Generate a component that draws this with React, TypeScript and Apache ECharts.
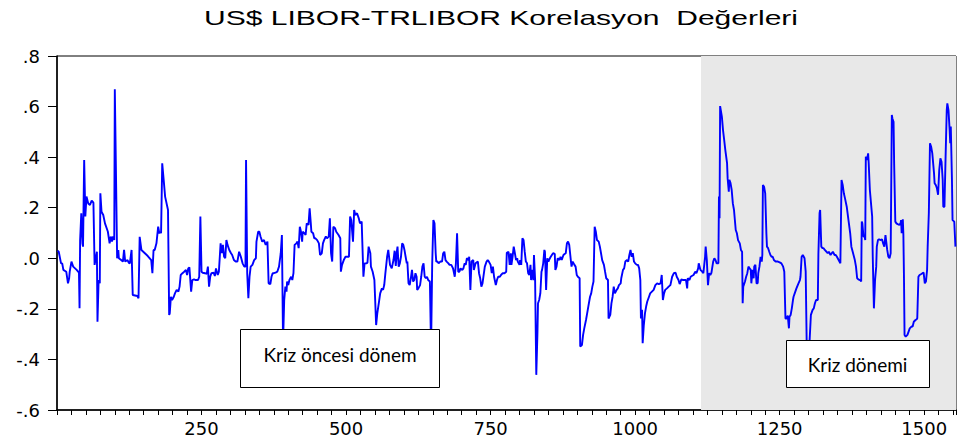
import React, { useEffect, useRef } from "react";
import * as echarts from "echarts";

const segA: [number, number][] = [
  [1, 0.03], [3, 0.026], [7, -0.02], [9, -0.02], [11, -0.046], [16, -0.053], [19, -0.099], [21, -0.079], [22, -0.053], [25, -0.013], [28, -0.033], [34, -0.046], [38, -0.057], [39, -0.198], [40, 0.072], [42, 0.178], [44, 0.059], [45, 0.046], [47, 0.389], [49, 0.165], [51, 0.244], [54, 0.217], [57, 0.211], [60, 0.228], [63, 0.22], [65, -0.026], [66, -0.013], [69, 0.026], [70, -0.251], [72, -0.086], [74, -0.099], [75, 0.257], [77, 0.184], [80, 0.171], [83, 0.138], [87, 0.112], [88, 0.105], [91, 0.059], [93, 0.086], [95, 0.066], [97, 0.086], [99, 0.072], [100, 0.668], [102, 0.336], [104, 0.0], [106, 0.033], [107, 0.0], [111, -0.007], [114, -0.013], [116, 0.033], [118, -0.013], [122, -0.007], [124, -0.017], [126, -0.02], [129, 0.033], [130, 0.033], [131, -0.145], [139, -0.149], [141, -0.158], [143, 0.085], [146, 0.033], [152, 0.02], [157, 0.009], [163, -0.007], [165, -0.059], [167, 0.033], [169, 0.033], [172, 0.059], [175, 0.125], [177, 0.099], [179, 0.105], [180, 0.099], [182, 0.376], [185, 0.297], [187, 0.244], [192, 0.191], [194, -0.224],
];
const segB: [number, number][] = [
  [195, -0.218], [197, -0.152], [199, -0.165], [202, -0.152], [204, -0.139], [207, -0.125], [210, -0.132], [212, -0.112], [214, -0.066], [217, -0.059], [220, -0.053], [223, -0.046], [225, -0.066], [227, -0.04], [229, -0.036], [232, -0.132], [234, -0.086], [237, -0.083], [240, -0.086], [244, -0.086], [246, -0.073], [248, 0.165], [250, -0.053], [252, -0.057], [256, -0.059], [259, -0.062], [261, -0.033], [263, -0.112], [265, -0.073], [267, -0.059], [271, -0.057], [273, -0.07], [275, -0.04], [278, -0.066], [280, -0.053], [283, 0.059], [285, 0.02], [287, 0.053], [289, 0.006], [291, 0.0], [293, 0.072], [295, 0.053], [298, 0.033], [301, 0.02], [303, 0.013], [306, -0.007], [309, -0.013], [312, -0.013], [315, 0.026], [318, 0.006], [321, -0.02], [324, -0.033], [326, -0.033], [327, 0.389], [329, -0.059], [331, -0.158], [333, -0.073], [335, -0.033], [338, -0.026], [341, -0.007], [344, 0.0], [345, 0.066], [348, 0.105], [350, 0.105], [352, 0.086], [355, 0.066], [358, 0.072], [361, 0.053], [364, 0.066], [366, -0.099], [369, -0.102], [371, -0.073], [373, -0.059], [375, -0.059], [378, -0.057], [381, -0.053], [384, -0.033], [387, 0.02],
];
const segC: [number, number][] = [
  [389, 0.092], [391, -0.33], [393, -0.165], [395, -0.112], [397, -0.132], [398, -0.092], [400, -0.106], [402, -0.086], [405, -0.073], [407, -0.086], [409, -0.059], [411, 0.053], [414, 0.059], [416, 0.066], [418, 0.04], [420, 0.125], [422, 0.105], [424, 0.066], [425, 0.105], [428, 0.099], [430, 0.092], [432, 0.138], [435, 0.132], [437, 0.198], [439, 0.138], [440, 0.105], [443, 0.099], [445, 0.079], [447, 0.079], [450, 0.072], [453, 0.059], [455, 0.013], [458, 0.02], [460, 0.059], [462, 0.072], [465, 0.086], [467, 0.079], [470, 0.086], [472, 0.158], [474, 0.02], [476, -0.013], [478, 0.125], [481, 0.119], [483, 0.105], [487, 0.092], [490, 0.079], [491, -0.053], [493, -0.026], [496, -0.007], [499, 0.006], [505, 0.006], [507, 0.165], [509, 0.151], [512, 0.066], [514, 0.191], [516, 0.171], [519, 0.178], [522, 0.158], [524, 0.138], [527, 0.145], [530, -0.073], [532, -0.02], [535, -0.02], [537, -0.017], [539, 0.046], [542, 0.02], [543, -0.033], [546, -0.053], [549, -0.086], [552, -0.264], [554, -0.218], [557, -0.171], [559, -0.139], [562, -0.119], [564, -0.125], [566, -0.106], [568, -0.059], [571, 0.006], [573, 0.033], [576, -0.026], [579, -0.04], [582, -0.007], [584, 0.03],
];
const segD: [number, number][] = [
  [586, -0.03], [587.5, 0.02], [589, 0.046], [591, -0.033], [593, -0.02], [595, 0.006], [597, 0.059], [599, 0.053], [601, 0.033], [603, 0.006], [605, -0.02], [606, -0.013], [608, -0.099], [610, -0.106], [612, -0.079], [614, -0.046], [616, -0.092], [618, -0.086], [620, -0.059], [622, -0.073], [623, -0.125], [625, -0.119], [628, -0.106], [630, -0.073], [632, -0.033], [634, -0.02], [636, -0.073], [638, -0.079], [640, -0.073], [642, -0.086], [645, -0.092], [647, -0.36], [649, -0.02], [651, 0.151], [653, 0.138], [655, 0.02], [656, -0.013], [658, -0.013], [660, -0.02], [663, -0.013], [666, -0.013], [668, 0.02], [670, 0.026], [672, -0.007], [674, -0.013], [677, -0.02], [679, -0.026], [682, -0.026], [685, -0.04], [688, -0.073], [690, -0.02], [692, 0.099], [694, -0.053], [696, -0.053], [698, -0.04], [701, -0.046], [703, -0.04], [705, -0.02], [707, -0.026], [709, 0.0], [712, -0.007], [713, 0.006], [715, -0.125], [717, -0.013], [720, -0.007], [721, -0.046], [724, -0.02], [725, -0.02], [728, -0.013], [730, -0.059], [732, -0.079], [734, -0.112], [736, -0.099], [738, -0.066], [740, -0.033], [743, -0.013], [745, -0.007], [747, -0.013], [750, -0.026], [752, -0.059], [754, -0.033], [756, -0.073], [759, -0.106], [761, -0.086], [763, -0.073], [766, -0.073], [768, -0.066], [771, -0.059], [774, -0.059], [777, -0.053],
];
const segE: [number, number][] = [
  [778, 0.022], [781, 0.026], [783, -0.026], [785, 0.02], [786, -0.026], [788, 0.006], [790, 0.046], [792, 0.02], [794, -0.007], [796, 0.0], [797, -0.013], [800, -0.026], [801, -0.007], [803, -0.026], [805, 0.079], [807, 0.072], [809, 0.026], [811, -0.013], [813, -0.02], [815, -0.059], [817, -0.066], [819, -0.026], [820, -0.086], [822, -0.046], [824, -0.086], [825, 0.013], [827, -0.086], [829, -0.461], [831, -0.297], [832, -0.178], [834, -0.165], [836, -0.139], [838, -0.053], [839, -0.046], [841, -0.02], [843, 0.033], [844, 0.026], [846, -0.125], [848, 0.0], [850, -0.013], [851, -0.007], [854, 0.006], [856, 0.013], [858, 0.02], [861, 0.017], [862, -0.046], [864, -0.033], [866, 0.0], [869, -0.007], [871, 0.006], [873, -0.007], [876, 0.013], [878, 0.017], [880, 0.02], [882, 0.059], [884, 0.066], [886, 0.053], [889, -0.013], [890, -0.033], [892, -0.013], [895, -0.026], [897, -0.033], [899, -0.066], [901, -0.073], [904, -0.079], [905, -0.349], [908, -0.343], [910, -0.303], [912, -0.277], [915, -0.244], [917, -0.218], [919, -0.191], [922, -0.152], [924, -0.139], [926, -0.112], [928, -0.092], [930, 0.125], [932, 0.105], [934, 0.072], [937, 0.066], [939, 0.046], [941, 0.02], [943, -0.007], [946, -0.026], [948, -0.053], [950, -0.079], [953, -0.086], [954, -0.238], [957, -0.224], [959, -0.178], [961, -0.152], [963, -0.112], [965, -0.139], [968, -0.125], [970, -0.119], [972, -0.106], [975, -0.099],
];
const segF: [number, number][] = [
  [976, -0.079], [979, -0.046], [981, -0.04], [983, -0.013], [986, -0.007], [988, -0.013], [990, 0.013], [992, 0.033], [994, 0.006], [996, 0.02], [998, -0.013], [1000, -0.02], [1003, -0.026], [1005, -0.026], [1007, -0.04], [1009, -0.086], [1010, -0.238], [1012, -0.204], [1013, -0.336], [1015, -0.264], [1017, -0.218], [1019, -0.191], [1021, -0.171], [1024, -0.152], [1026, -0.139], [1029, -0.132], [1032, -0.125], [1035, -0.106], [1038, -0.099], [1041, -0.102], [1044, -0.099], [1046, -0.066], [1048, -0.165], [1050, -0.139], [1052, -0.125], [1055, -0.119], [1058, -0.112], [1061, -0.106], [1064, -0.073], [1067, -0.059], [1070, -0.057], [1072, -0.073], [1075, -0.086], [1077, -0.102], [1080, -0.083], [1083, -0.086], [1086, -0.086], [1088, -0.086], [1090, -0.119], [1091, -0.079], [1094, -0.086], [1096, -0.073], [1098, -0.07], [1101, -0.066], [1104, -0.053], [1106, -0.059], [1109, -0.04], [1110, -0.02], [1113, -0.046], [1116, -0.053], [1118, -0.059], [1121, 0.006], [1122, 0.046], [1124, -0.007], [1126, -0.106], [1128, -0.059], [1130, -0.066], [1132, -0.057], [1135, -0.013], [1137, 0.0], [1139, -0.007], [1141, -0.02], [1144, -0.02], [1145, 0.244], [1146, 0.158], [1147, 0.602], [1150, 0.56], [1152, 0.507], [1154, 0.468], [1156, 0.428], [1159, 0.376], [1160, 0.316], [1162, 0.263], [1163, 0.31], [1165, 0.297], [1167, 0.27],
];
const segG: [number, number][] = [
  [1169, 0.217], [1171, 0.191], [1174, 0.112], [1176, 0.099], [1178, 0.072], [1181, 0.059], [1183, 0.033], [1185, 0.026], [1186, -0.178], [1187, -0.112], [1190, -0.092], [1192, -0.073], [1194, -0.059], [1196, -0.033], [1198, -0.04], [1200, -0.046], [1201, -0.099], [1203, -0.046], [1205, -0.079], [1206, -0.033], [1208, -0.026], [1210, -0.099], [1212, -0.099], [1213, -0.059], [1215, -0.033], [1217, 0.006], [1219, -0.013], [1220, 0.013], [1221, 0.29], [1223, 0.283], [1225, 0.257], [1227, 0.099], [1228, 0.046], [1230, 0.04], [1232, 0.026], [1234, 0.013], [1236, 0.006], [1238, 0.006], [1240, -0.007], [1243, -0.013], [1247, -0.013], [1250, -0.016], [1253, -0.02], [1256, -0.033], [1258, -0.053], [1260, -0.238], [1262, -0.238], [1264, -0.227], [1266, -0.277], [1267, -0.231], [1269, -0.224], [1271, -0.198], [1273, -0.165], [1274, -0.152], [1276, -0.139], [1279, -0.119], [1282, -0.102], [1285, -0.086], [1286, -0.073], [1288, 0.006], [1290, 0.013], [1293, 0.0], [1295, -0.053], [1297, -0.38], [1301, -0.36], [1303, -0.27], [1304, -0.224], [1307, -0.204], [1309, -0.198], [1311, -0.178], [1313, -0.165], [1316, -0.165], [1317, 0.02], [1319, 0.178], [1320, 0.191], [1322, 0.046], [1324, 0.04], [1326, 0.04], [1328, 0.033], [1331, 0.026], [1333, 0.02], [1335, 0.026], [1338, 0.013], [1340, 0.02], [1342, 0.026], [1345, 0.013], [1347, 0.013], [1349, 0.006], [1352, -0.007], [1355, -0.02], [1357, 0.31], [1359, 0.29], [1361, 0.257],
];
const segH: [number, number][] = [
  [1363, 0.237], [1366, 0.204], [1369, 0.151], [1372, 0.099], [1374, 0.046], [1377, 0.02], [1380, -0.007], [1382, -0.033], [1384, -0.079], [1386, -0.083], [1389, -0.086], [1391, -0.092], [1392, 0.145], [1393, 0.138], [1395, 0.086], [1397, 0.086], [1398, 0.072], [1399, 0.402], [1401, 0.389], [1403, 0.415], [1404, 0.376], [1406, 0.27], [1408, 0.217], [1410, 0.165], [1411, 0.006], [1413, -0.198], [1415, -0.086], [1417, -0.033], [1418, 0.046], [1420, 0.072], [1422, 0.075], [1425, 0.072], [1427, 0.075], [1429, 0.059], [1431, 0.046], [1433, 0.092], [1436, 0.033], [1438, 0.006], [1440, 0.0], [1442, 0.02], [1444, 0.567], [1445, 0.553], [1447, 0.54], [1448, 0.376], [1450, 0.145], [1452, 0.138], [1454, 0.135], [1457, 0.132], [1459, 0.138], [1460, 0.151], [1461, 0.099], [1463, 0.154], [1464, 0.092], [1465, -0.073], [1466, -0.303], [1468, -0.31], [1471, -0.303], [1473, -0.29], [1475, -0.277], [1478, -0.27], [1480, -0.27], [1482, -0.251], [1485, -0.244], [1487, -0.241], [1488, -0.237], [1490, -0.073], [1492, -0.066], [1495, -0.062], [1497, -0.059], [1499, -0.057], [1501, -0.099], [1503, -0.092], [1505, -0.046], [1506, 0.046], [1508, 0.178], [1510, 0.455], [1512, 0.441], [1514, 0.415], [1517, 0.336], [1518, 0.297], [1520, 0.29], [1522, 0.277], [1524, 0.251], [1526, 0.349], [1528, 0.395], [1530, 0.382], [1532, 0.31], [1533, 0.204], [1535, 0.204], [1537, 0.402], [1539, 0.586], [1540, 0.613], [1542, 0.586], [1544, 0.507], [1545, 0.455], [1546, 0.521], [1548, 0.31], [1549, 0.151], [1552, 0.145], [1554, 0.046],
];

const xRange = [0, 1555];
const crisisStart = 1114;
const titleText = "US$ LIBOR-TRLIBOR Korelasyon  Değerleri";
const preCrisisLabel = "Kriz öncesi dönem";
const crisisLabel = "Kriz dönemi";

export default function App() {
  const ref = useRef<HTMLDivElement>(null);
  useEffect(() => {
    if (!ref.current) return;
    const chart = echarts.init(ref.current, undefined, { renderer: "svg" });
    const data = [...segA, ...segB, ...segC, ...segD, ...segE, ...segF, ...segG, ...segH];
    const axisFont = "DejaVu Sans";
    chart.setOption({
      animation: false,
      backgroundColor: "#ffffff",
      grid: {
        left: 57,
        right: 1,
        top: 56,
        bottom: 33,
        show: true,
        borderColor: "#000",
        borderWidth: 1,
        backgroundColor: "transparent",
      },
      xAxis: {
        type: "value",
        min: xRange[0],
        max: xRange[1],
        interval: 25,
        axisLine: { show: true, onZero: false, lineStyle: { color: "#000", width: 1.5 } },
        axisTick: { show: true, length: 5, inside: false, lineStyle: { color: "#000", width: 1 } },
        splitLine: { show: false },
        axisLabel: {
          show: true,
          margin: 9,
          color: "#000",
          fontFamily: axisFont,
          fontSize: 18,
          showMinLabel: true,
          showMaxLabel: true,
          formatter: (v: number) => (v > 0 && Math.round(v) % 250 === 0 ? String(Math.round(v)) : ""),
        },
      },
      yAxis: {
        type: "value",
        min: -0.6,
        max: 0.8,
        interval: 0.2,
        axisLine: { show: true, onZero: false, lineStyle: { color: "#000", width: 1.5 } },
        axisTick: { show: true, length: 9, inside: false, lineStyle: { color: "#000", width: 1 } },
        splitLine: { show: false },
        axisLabel: {
          margin: 17,
          color: "#000",
          fontFamily: axisFont,
          fontSize: 18,
          formatter: (v: number) => {
            if (Math.abs(v) < 1e-9) return ".0";
            return v.toFixed(1).replace(/^(-?)0\./, "$1.");
          },
        },
      },
      series: [
        {
          type: "line",
          data,
          showSymbol: false,
          symbol: "none",
          z: 2,
          lineStyle: { color: "#0000ff", width: 1.9 },
          markArea: {
            silent: true,
            z: 1,
            itemStyle: { color: "#e8e8e8" },
            data: [[{ xAxis: crisisStart }, { xAxis: xRange[1] }]],
          },
        },
      ],
      graphic: [
        {
          type: "text",
          x: 501,
          y: 18,
          scaleX: 1.43,
          z: 100,
          style: {
            text: titleText,
            fontFamily: "Liberation Sans",
            fontSize: 21,
            fill: "#000",
            textAlign: "center",
            textVerticalAlign: "middle",
          },
        },
        {
          type: "rect",
          z: 100,
          shape: { x: 240.5, y: 329.5, width: 199, height: 58 },
          style: { fill: "#fff", stroke: "#000", lineWidth: 1 },
        },
        {
          type: "text",
          z: 101,
          x: 340,
          y: 354,
          style: {
            text: preCrisisLabel,
            fontFamily: "Lato",
            fontSize: 19,
            fill: "#000",
            textAlign: "center",
            textVerticalAlign: "middle",
          },
        },
        {
          type: "rect",
          z: 100,
          shape: { x: 786.5, y: 340.5, width: 143, height: 47 },
          style: { fill: "#fff", stroke: "#000", lineWidth: 1 },
        },
        {
          type: "text",
          z: 101,
          x: 857.5,
          y: 364,
          style: {
            text: crisisLabel,
            fontFamily: "Lato",
            fontSize: 19,
            fill: "#000",
            textAlign: "center",
            textVerticalAlign: "middle",
          },
        },
      ],
    });
    return () => chart.dispose();
  }, []);
  return (
    <div
      ref={ref}
      style={{ position: "fixed", left: 0, top: 0, width: 959, height: 443, background: "#fff" }}
    />
  );
}
